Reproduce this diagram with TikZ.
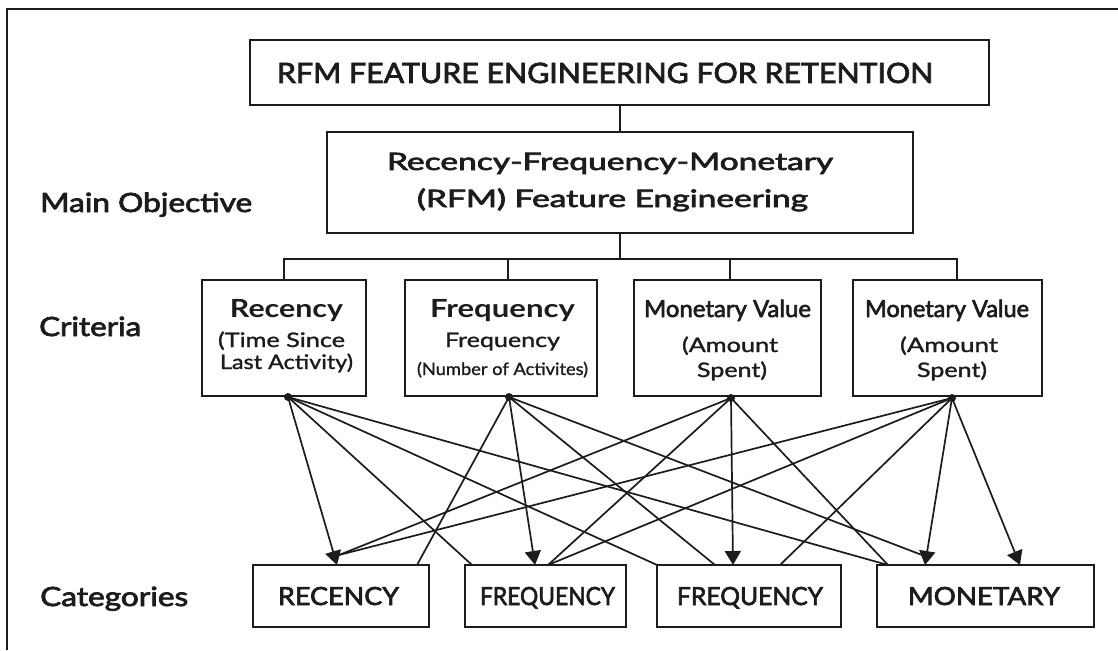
\documentclass[tikz,border=0pt]{standalone}
\usepackage{fontspec}
\setmainfont{Lato}
\newfontfamily\medfont{Lato}[FakeBold=2.6]
\newfontfamily\regfont{Lato}[FakeBold=1.2]
\usepackage{graphicx}
\usetikzlibrary{arrows.meta}
\definecolor{ink}{HTML}{1C1C1C}
% set a line of text at a given width, keeping its natural height
\newcommand{\fitw}[2]{\resizebox{#1pt}{\height}{#2}}
\newcommand{\fsz}[1]{\fontsize{#1pt}{#1pt}\selectfont}

\begin{document}
\begin{tikzpicture}[x=1pt,y=-1pt,
  box/.style={draw=ink,line width=2.5pt,inner sep=0pt,rectangle},
  txt/.style={anchor=base,inner sep=0pt,text=ink},
  link/.style={draw=ink,line width=1.7pt},
  head/.style={link,-{Triangle[width=16pt,length=14pt]}},
  port/.style={fill=ink}]

\useasboundingbox (0,0) rectangle (1118,650);
\fill[white] (0,0) rectangle (1118,650);

% outer frame (left and top edges)
\draw[ink,line width=2pt] (7,650) -- (7,9) -- (1118,9);

% ---------- boxes ----------
\node[box,minimum width=739pt,minimum height=65pt] (title) at (619.5,72.5) {};
\node[box,minimum width=586pt,minimum height=101pt] (main) at (620,182.5) {};

\node[box,minimum width=164pt,minimum height=116pt] (c1) at (284,338) {};
\node[box,minimum width=192pt,minimum height=116pt] (c2) at (501,338) {};
\node[box,minimum width=187pt,minimum height=116pt] (c3) at (727.5,338) {};
\node[box,minimum width=189pt,minimum height=116pt] (c4) at (947.5,338) {};

\node[box,minimum width=176pt,minimum height=62pt] (k1) at (341,596) {};
\node[box,minimum width=161pt,minimum height=62pt] (k2) at (545.5,596) {};
\node[box,minimum width=184pt,minimum height=62pt] (k3) at (749,596) {};
\node[box,minimum width=217pt,minimum height=62pt] (k4) at (985.5,596) {};

% ---------- texts ----------
\node[txt] (ttlT) at (605,83) {\fitw{656}{\medfont\fsz{28}RFM FEATURE ENGINEERING FOR RETENTION}};
\node[txt] (mainA) at (610,170) {\fitw{446}{\medfont\fsz{24}Recency-Frequency-Monetary}};
\node[txt] (mainB) at (612.5,207) {\fitw{391}{\medfont\fsz{24}(RFM) Feature Engineering}};

\node[txt,anchor=base west] (lObj) at (40,212) {\fitw{212}{\medfont\fsz{26.5}Main Objective}};
\node[txt,anchor=base west] (lCrit) at (39,336) {\fitw{102}{\medfont\fsz{26.5}Criteria}};
\node[txt,anchor=base west] (lCat) at (40,606) {\fitw{148}{\medfont\fsz{26.5}Categories}};

\node[txt] (c1a) at (286.5,317) {\fitw{113}{\bfseries\fsz{25}Recency}};
\node[txt] (c1b) at (281.5,347) {\fitw{127}{\regfont\fsz{20}(Time Since}};
\node[txt] (c1c) at (286.5,369) {\fitw{133}{\regfont\fsz{20}Last Activity)}};

\node[txt] (c2a) at (502.5,317) {\fitw{145}{\bfseries\fsz{25}Frequency}};
\node[txt] (c2b) at (502.5,347) {\fitw{115}{\regfont\fsz{20}Frequency}};
\node[txt] (c2c) at (502.5,375) {\fitw{171}{\regfont\fsz{17}(Number of Activites)}};

\node[txt] (c3a) at (727.5,317) {\fitw{167}{\medfont\fsz{23.5}Monetary Value}};
\node[txt] (c3b) at (730,352) {\fitw{96}{\regfont\fsz{20}(Amount}};
\node[txt] (c3c) at (732,377) {\fitw{70}{\regfont\fsz{20}Spent)}};

\node[txt] (c4a) at (947,317) {\fitw{164}{\medfont\fsz{23.5}Monetary Value}};
\node[txt] (c4b) at (949,352) {\fitw{98}{\regfont\fsz{20}(Amount}};
\node[txt] (c4c) at (952,377) {\fitw{70}{\regfont\fsz{20}Spent)}};

\node[txt] (k1t) at (338.5,605) {\fitw{121}{\medfont\fsz{25}RECENCY}};
\node[txt] (k2t) at (547.5,605) {\fitw{135}{\medfont\fsz{25}FREQUENCY}};
\node[txt] (k3t) at (750,605) {\fitw{146}{\medfont\fsz{25}FREQUENCY}};
\node[txt] (k4t) at (984,605) {\fitw{152}{\medfont\fsz{25}MONETARY}};

% ---------- tree connectors ----------
\coordinate (bar) at (620,259);
\coordinate (d1) at (284,280);
\coordinate (d2) at (508,280);
\coordinate (d3) at (730,280);
\coordinate (d4) at (957,280);
\draw[link,line width=2pt] (main.north) -- (main.north |- title.south);
\draw[link,line width=2pt] (main.south) -- (bar);
\draw[link,line width=2pt] (d1) -- (d1 |- bar) -- (d4 |- bar) -- (d4);
\draw[link,line width=2pt] (d2 |- bar) -- (d2);
\draw[link,line width=2pt] (d3 |- bar) -- (d3);

% ---------- criteria -> categories ----------
\coordinate (sA) at (288,397);
\coordinate (sB) at (509,397);
\coordinate (sC) at (731,398);
\coordinate (sD) at (952,398);

\coordinate (tR)   at (337,565);
\coordinate (mR)   at (339,555);
\coordinate (eR)   at (417,565);
\coordinate (eF1a) at (472,565);
\coordinate (tF1)  at (535,565);
\coordinate (eF1b) at (548,565);
\coordinate (eF2a) at (657,565);
\coordinate (eF2b) at (715,565);
\coordinate (tF2)  at (733,565);
\coordinate (eF2c) at (780,565);
\coordinate (eMa)  at (888,565);
\coordinate (tM1)  at (925,565);
\coordinate (mM)   at (922,555);
\coordinate (tM2)  at (1020,565);

% from Recency
\draw[head] (sA) -- (tR);
\draw[link] (sA) -- (eF1a);
\draw[link] (sA) -- (eF2a);
\draw[link] (sA) -- (eMa);
% from Frequency
\draw[link] (sB) -- (eR);
\draw[head] (sB) -- (tF1);
\draw[link] (sB) -- (eF2b);
\draw[link] (sB) -- (mM);
% from the first Monetary Value
\draw[link] (sC) -- (mR);
\draw[link] (sC) -- (eF1b);
\draw[head] (sC) -- (tF2);
\draw[link] (sC) -- (eMa);
% from the second Monetary Value
\draw[link] (sD) -- (mR);
\draw[link] (sD) -- (eF1b);
\draw[link] (sD) -- (eF2c);
\draw[head] (sD) -- (tM1);
\draw[head] (sD) -- (tM2);

% connection dots
\foreach \p in {sA,sB,sC,sD} \fill[port] (\p) circle (4);

\end{tikzpicture}
\end{document}
